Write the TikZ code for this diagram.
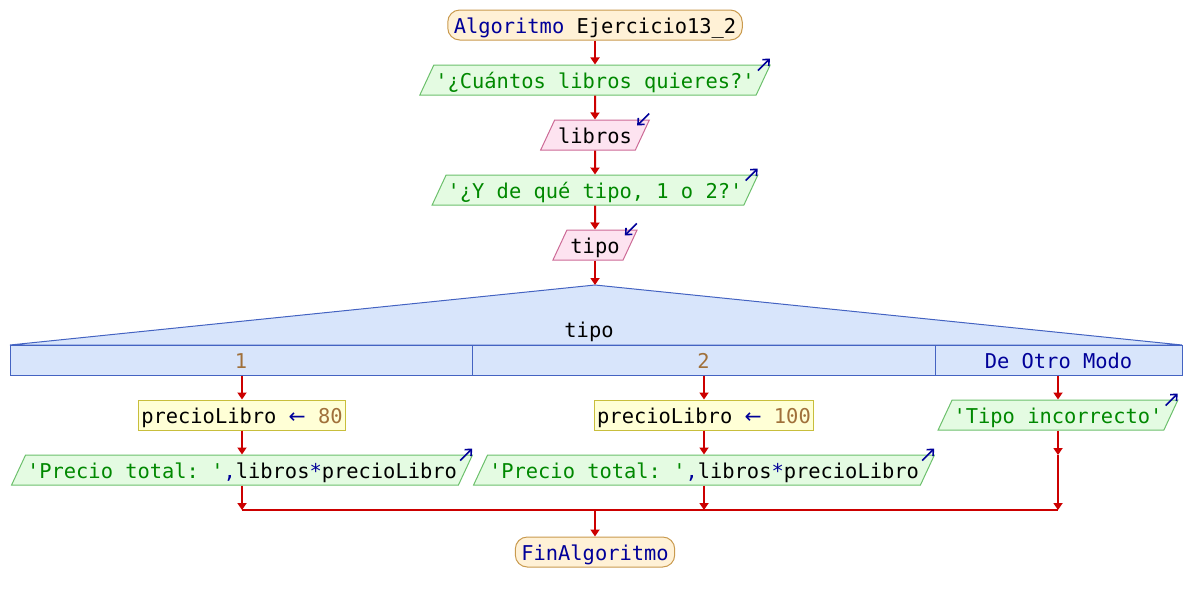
\documentclass[tikz,border=0pt]{standalone}
\usepackage{fontspec}
\setmonofont{DejaVu Sans Mono}
\newfontfamily\arrowfont{DejaVu Sans}
\usetikzlibrary{arrows.meta,shapes.geometric}
\definecolor{termfill}{HTML}{FFF1D6}
\definecolor{termborder}{HTML}{C99A4E}
\definecolor{outfill}{HTML}{E4FBE2}
\definecolor{outborder}{HTML}{6CC06C}
\definecolor{infill}{HTML}{FDE3F0}
\definecolor{inborder}{HTML}{CC6A96}
\definecolor{asgfill}{HTML}{FFFFD6}
\definecolor{asgborder}{HTML}{C8BE3C}
\definecolor{swfill}{HTML}{D8E5FB}
\definecolor{swborder}{HTML}{4463C2}
\definecolor{flowred}{HTML}{CC0000}
\definecolor{kwblue}{HTML}{000099}
\definecolor{strgreen}{HTML}{008800}
\definecolor{numbrown}{HTML}{A0703A}

\newcommand{\getsarrow}{\textcolor{kwblue}{\arrowfont ←}}

\tikzset{
  base/.style={font=\ttfamily\fontsize{20.4}{24}\selectfont, inner ysep=0pt,
    minimum height=30pt, text height=19pt, text depth=3pt, line width=1pt},
  terminal/.style={base, rectangle, draw=termborder, fill=termfill,
    rounded corners=12pt, inner xsep=6pt, text=kwblue},
  outbox/.style={base, minimum height=0pt, inner ysep=4pt, trapezium,
    trapezium left angle=65, trapezium right angle=115,
    draw=outborder, fill=outfill, inner xsep=1.5pt, text=strgreen},
  inbox/.style={outbox, draw=inborder, fill=infill, inner xsep=3.5pt, text=black},
  assignbox/.style={base, rectangle, draw=asgborder, fill=asgfill, inner xsep=3pt},
  casecell/.style={base, rectangle, draw=swborder, fill=swfill, minimum height=30pt},
  flow/.style={draw=flowred, line width=2pt, -{Triangle[length=7pt,width=9pt]}},
  outmark/.style={draw=kwblue, line width=1.6pt, -{Straight Barb[length=5pt,width=9pt]}},
}

\begin{document}
\begin{tikzpicture}[x=1pt, y=-1pt]
\useasboundingbox (0,0) rectangle (1190,600);

% --- sequence above the switch ---
\node[terminal] (start) at (595,25) {Algoritmo \textcolor{black}{Ejercicio13\_2}};
\node[outbox] (ask1) at (595,80) {'¿Cuántos libros quieres?'};
\node[inbox] (libros) at (595,135) {libros};
\node[outbox] (ask2) at (595,190) {'¿Y de qué tipo, 1 o 2?'};
\node[inbox] (tipo) at (595,245) {tipo};

\draw[outmark] ([shift={(-13,6)}]ask1.top right corner) -- ++(12,-12);
\draw[outmark] ([shift={(-1,-6)}]libros.top right corner) -- ++(-12,12);
\draw[outmark] ([shift={(-13,6)}]ask2.top right corner) -- ++(12,-12);
\draw[outmark] ([shift={(-1,-6)}]tipo.top right corner) -- ++(-12,12);

\draw[flow] (start) -- (ask1);
\draw[flow] (ask1) -- (libros);
\draw[flow] (libros) -- (ask2);
\draw[flow] (ask2) -- (tipo);

% --- switch ---
\coordinate (apex) at (595,285);
\filldraw[fill=swfill, draw=swborder, line width=1pt] (apex) -- (10,345) -- (1182,345) -- cycle;
\node[base] (swlabel) at (589,329) {tipo};
\draw[flow] (tipo) -- (apex);

\node[casecell, minimum width=462pt, text=numbrown] (case1) at (241,360) {1};
\node[casecell, minimum width=463pt, text=numbrown] (case2) at (703.5,360) {2};
\node[casecell, minimum width=247pt, text=kwblue] (case3) at (1058.5,360) {De Otro Modo};

% --- branch 1 ---
\node[assignbox] (set1) at (242,415) {precioLibro \getsarrow\ \textcolor{numbrown}{80}};
\node[outbox] (show1) at (242,470) {'Precio total: '\textcolor{kwblue}{,}\textcolor{black}{libros}\textcolor{kwblue}{*}\textcolor{black}{precioLibro}};
\draw[outmark] ([shift={(-13,6)}]show1.top right corner) -- ++(12,-12);

% --- branch 2 ---
\node[assignbox] (set2) at (704,415) {precioLibro \getsarrow\ \textcolor{numbrown}{100}};
\node[outbox] (show2) at (704,470) {'Precio total: '\textcolor{kwblue}{,}\textcolor{black}{libros}\textcolor{kwblue}{*}\textcolor{black}{precioLibro}};
\draw[outmark] ([shift={(-13,6)}]show2.top right corner) -- ++(12,-12);

% --- branch 3 ---
\node[outbox] (wrong) at (1058,415) {'Tipo incorrecto'};
\draw[outmark] ([shift={(-13,6)}]wrong.top right corner) -- ++(12,-12);
\coordinate (skip3) at (1058,455);

% --- merge ---
\coordinate (join1) at (242,510);
\coordinate (join2) at (704,510);
\coordinate (join3) at (1058,510);
\coordinate (joinmid) at (595,510);
\node[terminal] (stop) at (595,552) {FinAlgoritmo};

\draw[flow] (case1.south -| set1) -- (set1);
\draw[flow] (set1) -- (show1);
\draw[flow] (show1.south -| join1) -- (join1);
\draw[flow] (case2.south -| set2) -- (set2);
\draw[flow] (set2) -- (show2);
\draw[flow] (show2.south -| join2) -- (join2);
\draw[flow] (case3.south -| skip3) -- (wrong.north -| skip3);
\draw[flow] (wrong.south -| skip3) -- (skip3);
\draw[flow] (skip3) -- (join3);
\draw[flowred, line width=2pt] (join1) -- (join3);
\draw[flow] (joinmid) -- (stop);

\end{tikzpicture}
\end{document}
